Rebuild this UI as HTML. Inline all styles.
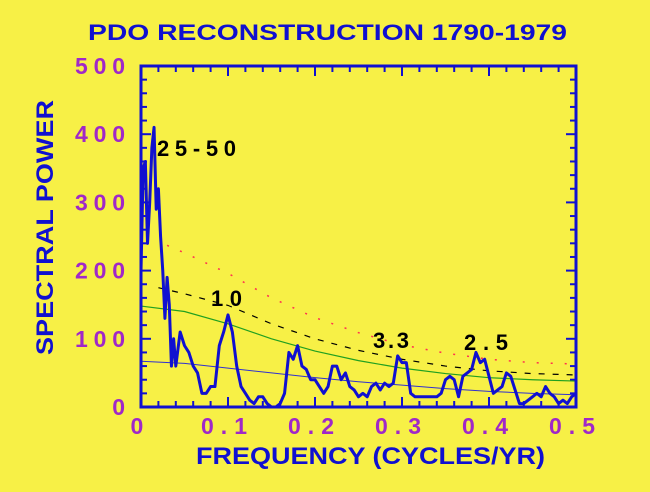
<!DOCTYPE html>
<html><head><meta charset="utf-8"><style>
body{margin:0;background:#f7f046;}
svg{display:block;font-family:"Liberation Sans",sans-serif;font-weight:bold;}
</style></head><body>
<svg width="650" height="492" viewBox="0 0 650 492">
<rect width="650" height="492" fill="#f7f046"/>
<text x="88" y="40" textLength="479" lengthAdjust="spacingAndGlyphs" font-size="22" fill="#1010d0">PDO  RECONSTRUCTION  1790-1979</text>
<g id="ticks"></g>
<g id="curves"></g>
<g id="series"></g>
<rect x="141" y="66" width="435" height="341" fill="none" stroke="#1010d0" stroke-width="3"/>
<g id="labels"></g>
<text x="196" y="464" textLength="349" lengthAdjust="spacingAndGlyphs" font-size="24" fill="#1010d0">FREQUENCY (CYCLES/YR)</text>
<text transform="translate(53,355) rotate(-90)" textLength="255" lengthAdjust="spacingAndGlyphs" font-size="24" fill="#1010d0">SPECTRAL POWER</text>
<text x="157" y="156" textLength="79" lengthAdjust="spacing" font-size="22" fill="#000">25-50</text>
<text x="211" y="306" textLength="31" lengthAdjust="spacing" font-size="22" fill="#000">10</text>
<text x="373" y="348" textLength="36" lengthAdjust="spacing" font-size="22" fill="#000">3.3</text>
<text x="464" y="350" textLength="44" lengthAdjust="spacing" font-size="22" fill="#000">2.5</text>
</svg>
<script>
const power=[200,350,360,240,300,380,410,290,320,250,200,130,190,150,60,100,60,
110,90,80,60,50,20,20,30,30,90,110,135,110,60,30,20,10,5,15,15,5,0,0,5,20,80,70,90,60,55,40,40,30,20,30,60,60,40,50,30,25,15,20,15,30,35,25,35,30,35,75,65,65,20,15,15,15,15,15,15,20,40,45,40,15,45,50,55,80,65,70,45,20,25,30,50,45,25,5,5,10,15,20,15,30,20,15,5,10,5,15,20];
const freq=[0,0.0025,0.005,0.0075,0.01,0.0125,0.015,0.0175,0.02,0.0225,0.025,0.0275,0.03,0.0325,0.035,0.0375,0.04];
for(let i=1;i<=92;i++)freq.push(+(0.04+i*0.005).toFixed(4));
const refFreq=[0,0.05,0.1,0.15,0.2,0.25,0.3,0.35,0.4,0.45,0.5];
const greenCurve=[148,140,122,100,82,68,57,49,43,40,38];
const blueCurve=[67,64,57,50,43,37,32,27,23,20,18];
const blackFreq=[0.02,0.05,0.1,0.15,0.2,0.25,0.3,0.35,0.4,0.45,0.5];
const blackCurve=[175,166,149,122,100,83,70,60,53,49,47];
const redFreq=[0.03,0.05,0.1,0.15,0.2,0.25,0.3,0.35,0.4,0.45,0.5];
const redCurve=[237,226,196,160,131,109,91,79,70,65,63];
const yTicks=[0,100,200,300,400,500];
const yTickLabels=["0","100","200","300","400","500"];
const xTicks=[0,0.1,0.2,0.3,0.4,0.5];
const xTickLabels=["0","0.1","0.2","0.3","0.4","0.5"];

const NS="http://www.w3.org/2000/svg";
const X=f=>141+f*870, Y=v=>407-v*0.682;
function mk(t,p,a){const e=document.createElementNS(NS,t);for(const k in a)e.setAttribute(k,a[k]);p.appendChild(e);return e;}
const T=document.getElementById('ticks'),L=document.getElementById('labels'),C=document.getElementById('curves'),S=document.getElementById('series');
for(let v=0;v<=500;v+=20){const len=v%100===0?10:6;
 let a=mk('line',T,{x1:141,x2:141+len,y1:Y(v),y2:Y(v),stroke:'#1010d0','stroke-width':2});
 
 let b=mk('line',T,{x1:576,x2:576-len,y1:Y(v),y2:Y(v),stroke:'#1010d0','stroke-width':2});
 }
for(let i=0;i<=25;i++){const f=i*0.02,len=i%5===0?10:6;
 let a=mk('line',T,{x1:X(f),x2:X(f),y1:407,y2:407-len,stroke:'#1010d0','stroke-width':2});
 
 let b=mk('line',T,{x1:X(f),x2:X(f),y1:66,y2:66+len,stroke:'#1010d0','stroke-width':2});
 }
yTicks.forEach((v,i)=>{const s=yTickLabels[i];const t=mk('text',L,{x:125,y:Y(v)+8,'text-anchor':'end','font-size':23,fill:'#a028c8'});
 if(s.length>1){t.setAttribute('textLength',50);t.setAttribute('lengthAdjust','spacing');}
 t.textContent=s;
 });
xTicks.forEach((f,i)=>{const s=xTickLabels[i];const w=s.length>1?46:13;const t=mk('text',L,{x:X(f)-w/2-4,y:434,'font-size':23,fill:'#a028c8'});
 if(s.length>1){t.setAttribute('textLength',w);t.setAttribute('lengthAdjust','spacing');}
 t.textContent=s;
 });
function line(fs,vs,attrs,name){const p=mk('polyline',C,Object.assign({points:fs.map((f,i)=>X(f)+','+Y(vs[i])).join(' '),fill:'none'},attrs));
 }
line(refFreq,blueCurve,{stroke:'#3030d0','stroke-width':1},'blue-noise-curve');
line(refFreq,greenCurve,{stroke:'#20a020','stroke-width':1.2},'green-mean-curve');
line(blackFreq,blackCurve,{stroke:'#000','stroke-width':1.2,'stroke-dasharray':'6,8'},'black-90-curve');
line(redFreq,redCurve,{stroke:'#ff3050','stroke-width':1.5,'stroke-dasharray':'2,12'},'red-95-curve');
const sp=mk('polyline',S,{points:freq.map((f,i)=>X(f)+','+Y(power[i])).join(' '),fill:'none',stroke:'#1010d0','stroke-width':3,'stroke-linejoin':'round'});


</script>
</body></html>
